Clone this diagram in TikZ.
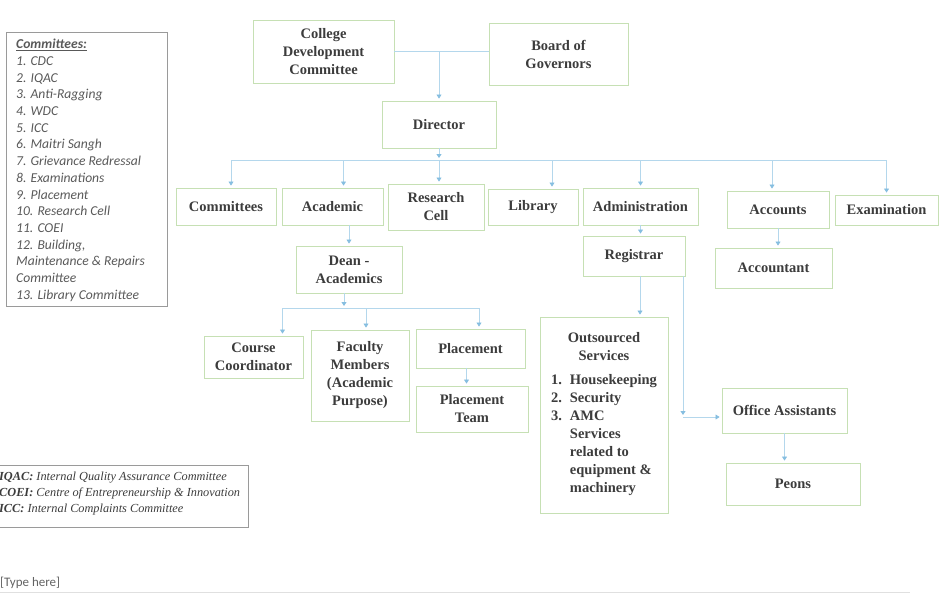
\documentclass[tikz,border=0pt]{standalone}
\usepackage{fontspec}
\setmainfont{Liberation Serif}
\newfontfamily\calibri{Carlito}
\usepackage{xcolor}
\usetikzlibrary{shapes,arrows,positioning,calc,arrows.meta}
\definecolor{boxgreen}{HTML}{C6E0B4}
\definecolor{linkblue}{HTML}{B4D7EC}
\definecolor{tipblue}{HTML}{86BEE0}
\definecolor{ink}{HTML}{3C3C3C}
\definecolor{notegray}{HTML}{9A9A9A}

\begin{document}
\begin{tikzpicture}[x=1pt, y=-1pt,
    unit/.style={draw=boxgreen, line width=0.9pt, fill=white, text=ink, align=center,
        font=\bfseries\fontsize{14.5}{18}\selectfont, inner sep=2pt},
    link/.style={draw=linkblue, line width=0.8pt},
    flow/.style={link, -{Triangle[width=5pt,length=4pt,color=tipblue]}, shorten >=2pt},
    note/.style={draw=notegray, line width=0.7pt}]
    \useasboundingbox (0,0) rectangle (947,595);

    % Top level
    \node[unit, minimum width=141, minimum height=63] (cdc) at (323.5,51.5) {College\\Development\\Committee};
    \node[unit, minimum width=139, minimum height=62] (bog) at (558.5,54) {Board of\\Governors};
    \node[unit, minimum width=114, minimum height=47] (dir) at (439,124.5) {Director};

    % Departments
    \node[unit, minimum width=100, minimum height=37] (com) at (226,206.5) {Committees};
    \node[unit, minimum width=101, minimum height=37] (aca) at (332.5,206.5) {Academic};
    \node[unit, minimum width=96, minimum height=46] (rc) at (436,207) {Research\\Cell};
    \node[unit, minimum width=90, minimum height=36] (lib) at (533,207) {Library};
    \node[unit, minimum width=115, minimum height=37] (adm) at (640.5,206.5) {Administration};
    \node[unit, minimum width=102, minimum height=37] (acc) at (778,209.5) {Accounts};
    \node[unit, minimum width=103, minimum height=30] (exam) at (886.5,210) {Examination};

    % Second level
    \node[unit, minimum width=106, minimum height=47] (dean) at (349,269.5) {Dean -\\Academics};
    \node[unit, minimum width=102, minimum height=40] (reg) at (634,256) {Registrar};
    \node[unit, minimum width=117, minimum height=40] (acct) at (773.5,268) {Accountant};

    % Academic staff
    \node[unit, minimum width=99, minimum height=42] (cc) at (253.5,357) {Course\\Coordinator};
    \node[unit, minimum width=98, minimum height=91] (fac) at (360,375.5) {Faculty\\Members\\(Academic\\Purpose)};
    \node[unit, minimum width=109, minimum height=39] (plc) at (470.5,348.5) {Placement};
    \node[unit, minimum width=112, minimum height=46] (plt) at (472,409) {Placement\\Team};

    % Administration staff
    \node[unit, minimum width=128, minimum height=196] (out) at (604,415) {Outsourced\\Services\\[10pt]%
        \begin{tabular}{@{}r@{\hspace{8pt}}l@{}}1.&Housekeeping\\2.&Security\\3.&AMC\\&Services\\&related to\\&equipment \&\\&machinery\end{tabular}};
    \node[unit, minimum width=125, minimum height=45] (oa) at (784.5,410.5) {Office Assistants};
    \node[unit, minimum width=134, minimum height=42] (peo) at (793,484) {Peons};

    % Connectors from the top
    \draw[link] (cdc.east) -- (cdc.east -| bog.west);
    \draw[flow] (dir.north |- cdc.east) -- (dir.north);
    \coordinate (bus) at (439,160);
    \draw[flow] (dir.south) -- (bus);
    \foreach \n/\s in {com/5, aca/11, rc/3, lib/19, adm/0, acc/-6, exam/0} {
        \coordinate (t\n) at ($(\n.north)+(\s,0)$);
        \draw[flow] (t\n |- bus) -- (t\n);
    }
    \draw[link] (tcom |- bus) -- (texam |- bus);

    % Academic branch
    \draw[flow] (dean.north |- aca.south) -- (dean.north);
    \coordinate (bus2) at (344,308);
    \draw[flow] (bus2 |- dean.south) -- (bus2);
    \foreach \n/\s in {cc/29, fac/6, plc/8.5} {
        \coordinate (t\n) at ($(\n.north)+(\s,0)$);
        \draw[flow] (t\n |- bus2) -- (t\n);
    }
    \draw[link] (tcc |- bus2) -- (tplc |- bus2);
    \draw[flow] ($(plc.south)+(-4,0)$) -- ($(plc.south |- plt.north)+(-4,0)$);

    % Administration and accounts branch
    \draw[flow] (adm.south) -- (adm.south |- reg.north);
    \draw[flow] (acc.south) -- (acc.south |- acct.north);
    \draw[flow] ($(reg.south)+(6,0)$) -- ($(reg.south |- out.north)+(6,0)$);
    \coordinate (turn) at (683,417);
    \draw[flow] (turn |- reg.south) -- (turn);
    \draw[flow] (turn) -- (turn -| oa.west);
    \draw[flow] (oa.south) -- (oa.south |- peo.north);

    % Committee list
    \draw[note] (6,32) rectangle (167,306);
    \node[anchor=north west, align=left, inner sep=0pt, text=ink!85,
        font=\calibri\itshape\fontsize{13.6}{16.7}\selectfont] (comlist) at (16,39)
        {\textbf{\underline{Committees:}}\\1. CDC\\2. IQAC\\3. Anti-Ragging\\4. WDC\\5. ICC\\6. Maitri Sangh\\7. Grievance Redressal\\8. Examinations\\9. Placement\\10. Research Cell\\11. COEI\\12. Building,\\Maintenance \& Repairs\\Committee\\13. Library Committee};

    % Abbreviations
    \draw[note] (-5,465) rectangle (248,527);
    \node[anchor=north west, align=left, inner sep=0pt, text=ink,
        font=\itshape\fontsize{12.3}{16}\selectfont] (abbr) at (-1,472)
        {\textbf{IQAC:} Internal Quality Assurance Committee\\\textbf{COEI:} Centre of Entrepreneurship \& Innovation\\\textbf{ICC:} Internal Complaints Committee};

    % Footer
    \node[anchor=west, inner sep=0pt, text=ink!80, font=\calibri\fontsize{13}{15}\selectfont] (footer) at (0,583) {[Type here]};
    \draw[draw=black!12, line width=0.8pt] (0,592) -- (910,592);
\end{tikzpicture}
\end{document}
